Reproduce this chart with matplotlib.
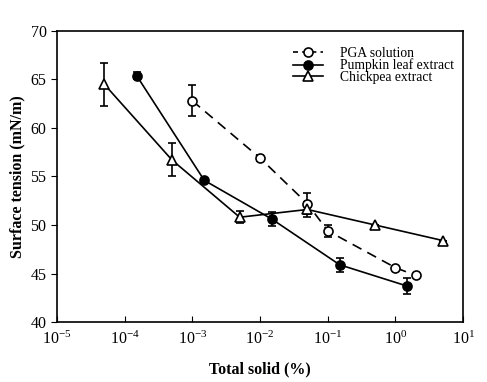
import matplotlib
matplotlib.use("Agg")
import matplotlib.pyplot as plt
from matplotlib.lines import Line2D
from matplotlib.ticker import LogLocator, NullLocator, MultipleLocator, FuncFormatter
import numpy as np

plt.rcParams["font.family"] = ["Liberation Serif", "DejaVu Serif"]
plt.rcParams["mathtext.fontset"] = "stix"
plt.rcParams["axes.unicode_minus"] = False

# PGA solution (open circles, dashed)
pga_x = [1e-3, 1e-2, 0.05, 0.1, 1.0, 2.0]
pga_y = [62.8, 56.9, 52.2, 49.4, 45.6, 44.8]
pga_err = [1.6, 0.3, 1.1, 0.6, 0.0, 0.0]

# Pumpkin leaf extract (filled circles)
pump_x = [1.5e-4, 1.5e-3, 1.5e-2, 0.15, 1.5]
pump_y = [65.4, 54.6, 50.6, 45.9, 43.7]
pump_err = [0.4, 0.0, 0.7, 0.7, 0.8]

# Chickpea extract (open triangles)
chick_x = [5e-5, 5e-4, 5e-3, 0.05, 0.5, 5.0]
chick_y = [64.5, 56.7, 50.8, 51.6, 50.0, 48.4]
chick_err = [2.2, 1.7, 0.6, 0.8, 0.0, 0.0]

fig = plt.figure(figsize=(4.87, 3.82), dpi=100)
ax = fig.add_axes([0.117, 0.157, 0.834, 0.762])

kw = dict(color="black", capsize=3, elinewidth=1.2, capthick=1.2,
          linewidth=1.2, markersize=6.5, markeredgewidth=1.2)
dash = (0, (6, 4))
ax.errorbar(pga_x, pga_y, yerr=pga_err, marker="o", markerfacecolor="white",
            linestyle=dash, **kw)
ax.errorbar(pump_x, pump_y, yerr=pump_err, marker="o", markerfacecolor="black",
            linestyle="-", **kw)
ax.errorbar(chick_x, chick_y, yerr=chick_err, marker="^", markerfacecolor="white",
            linestyle="-", **kw)

ax.set_xscale("log")
ax.set_xlim(1e-5, 1e1)
ax.set_ylim(40, 70)
ax.xaxis.set_major_locator(LogLocator(base=10, numticks=10))
ax.xaxis.set_minor_locator(NullLocator())
ax.xaxis.set_major_formatter(FuncFormatter(
    lambda v, p: r"$\mathregular{10^{%d}}$" % int(round(np.log10(v)))))
ax.yaxis.set_major_locator(MultipleLocator(5))
ax.tick_params(axis="x", direction="in", length=4, labelsize=11.5, pad=6)
ax.tick_params(axis="y", direction="out", length=4, labelsize=11.5)
for s in ax.spines.values():
    s.set_linewidth(1.2)

ax.set_xlabel("Total solid (%)", fontsize=11.5, fontweight="bold", labelpad=10)
ax.set_ylabel("Surface tension (mN/m)", fontsize=11.5, fontweight="bold")

lkw = dict(color="black", linewidth=1.2, markersize=6.5, markeredgewidth=1.2)
handles = [
    Line2D([], [], marker="o", markerfacecolor="white", linestyle=(0, (3, 2.5)), **lkw),
    Line2D([], [], marker="o", markerfacecolor="black", linestyle="-", **lkw),
    Line2D([], [], marker="^", markerfacecolor="white", linestyle="-", **lkw),
]
labels = ["PGA solution", "Pumpkin leaf extract", "Chickpea extract"]
ax.legend(handles, labels, loc="upper right", frameon=False, fontsize=9.8,
          handlelength=2.2, handletextpad=1.2, labelspacing=-0.1,
          bbox_to_anchor=(1.007, 0.987))

fig.savefig("out.png", dpi=100)
